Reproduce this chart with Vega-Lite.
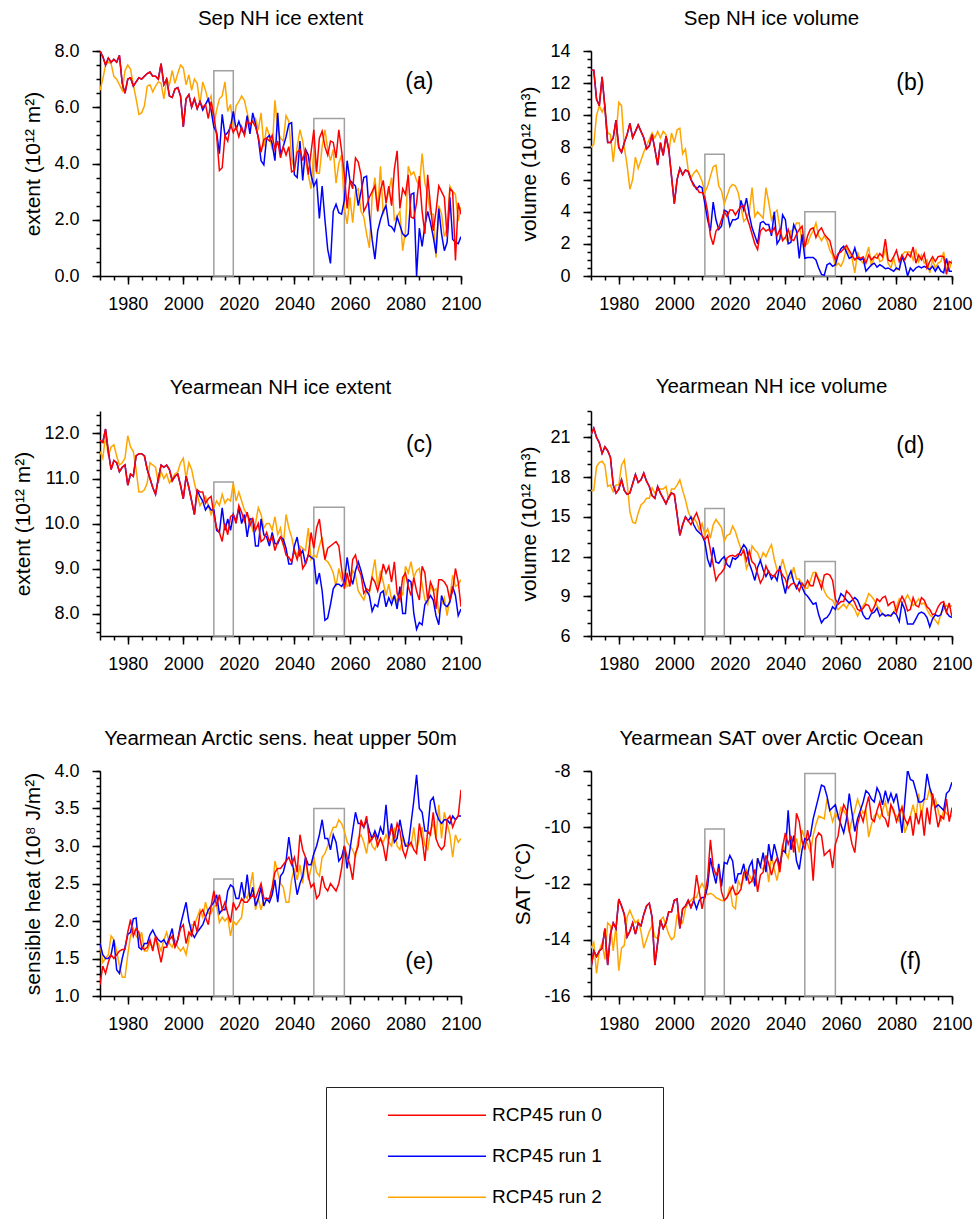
{
  "$schema": "https://vega.github.io/schema/vega-lite/v6.json",
  "padding": {"left": 12, "top": 8, "right": 10, "bottom": 0},
  "columns": 2,
  "spacing": {"row": 135, "column": 130},
  "bounds": "flush",
  "datasets": {
    "sepExtent": [
      {"year":1970,"r0":8.0,"r1":8.0,"r2":6.6},{"year":1971,"r0":7.8,"r1":7.8,"r2":7.0},{"year":1972,"r0":7.5,"r1":7.5,"r2":7.5},{"year":1973,"r0":7.75,"r1":7.75,"r2":7.6},{"year":1974,"r0":7.6,"r1":7.6,"r2":7.55},
      {"year":1975,"r0":7.7,"r1":7.7,"r2":7.1},{"year":1976,"r0":7.6,"r1":7.6,"r2":7.0},{"year":1977,"r0":7.85,"r1":7.85,"r2":6.8},{"year":1978,"r0":6.85,"r1":6.85,"r2":6.6},{"year":1979,"r0":6.5,"r1":6.5,"r2":7.3},
      {"year":1980,"r0":7.0,"r1":7.0,"r2":7.5},{"year":1981,"r0":7.05,"r1":7.05,"r2":7.35},{"year":1982,"r0":6.75,"r1":6.75,"r2":6.8},{"year":1983,"r0":6.9,"r1":6.9,"r2":6.3},{"year":1984,"r0":7.05,"r1":7.05,"r2":5.75},
      {"year":1985,"r0":7.0,"r1":7.0,"r2":5.8},{"year":1986,"r0":7.1,"r1":7.1,"r2":6.05},{"year":1987,"r0":7.2,"r1":7.2,"r2":6.75},{"year":1988,"r0":7.25,"r1":7.25,"r2":6.8},{"year":1989,"r0":7.1,"r1":7.1,"r2":6.55},
      {"year":1990,"r0":7.1,"r1":7.1,"r2":6.75},{"year":1991,"r0":7.0,"r1":7.0,"r2":6.9},{"year":1992,"r0":7.55,"r1":7.55,"r2":6.85},{"year":1993,"r0":6.8,"r1":6.8,"r2":6.3},{"year":1994,"r0":7.0,"r1":7.0,"r2":7.0},
      {"year":1995,"r0":6.4,"r1":6.4,"r2":6.8},{"year":1996,"r0":6.35,"r1":6.35,"r2":7.3},{"year":1997,"r0":6.65,"r1":6.65,"r2":6.85},{"year":1998,"r0":6.7,"r1":6.7,"r2":7.2},{"year":1999,"r0":6.4,"r1":6.4,"r2":7.5},
      {"year":2000,"r0":5.3,"r1":5.3,"r2":7.4},{"year":2001,"r0":6.3,"r1":6.3,"r2":6.8},{"year":2002,"r0":6.45,"r1":6.45,"r2":7.15},{"year":2003,"r0":6.0,"r1":6.0,"r2":6.6},{"year":2004,"r0":6.3,"r1":6.3,"r2":7.0},
      {"year":2005,"r0":5.95,"r1":5.95,"r2":6.85},{"year":2006,"r0":6.2,"r1":6.2,"r2":6.1},{"year":2007,"r0":6.0,"r1":5.9,"r2":6.9},{"year":2008,"r0":6.1,"r1":6.1,"r2":6.6},{"year":2009,"r0":5.6,"r1":6.3,"r2":6.2},
      {"year":2010,"r0":6.2,"r1":5.9,"r2":6.4},{"year":2011,"r0":5.7,"r1":5.3,"r2":5.4},{"year":2012,"r0":5.0,"r1":5.1,"r2":5.9},{"year":2013,"r0":3.75,"r1":4.35,"r2":6.3},{"year":2014,"r0":3.85,"r1":5.75,"r2":6.4},
      {"year":2015,"r0":5.0,"r1":5.0,"r2":6.9},{"year":2016,"r0":4.8,"r1":5.1,"r2":5.85},{"year":2017,"r0":5.4,"r1":5.3,"r2":6.1},{"year":2018,"r0":5.1,"r1":5.85,"r2":5.3},{"year":2019,"r0":5.3,"r1":5.2,"r2":6.05},
      {"year":2020,"r0":4.95,"r1":5.5,"r2":6.2},{"year":2021,"r0":5.3,"r1":5.2,"r2":6.4},{"year":2022,"r0":5.0,"r1":5.05,"r2":6.25},{"year":2023,"r0":5.5,"r1":5.7,"r2":5.8},{"year":2024,"r0":5.4,"r1":5.05,"r2":5.35},
      {"year":2025,"r0":5.5,"r1":5.8,"r2":5.5},{"year":2026,"r0":5.3,"r1":5.4,"r2":5.6},{"year":2027,"r0":4.95,"r1":4.9,"r2":5.2},{"year":2028,"r0":4.4,"r1":4.1,"r2":5.8},{"year":2029,"r0":4.85,"r1":3.95,"r2":4.6},
      {"year":2030,"r0":4.9,"r1":4.9,"r2":5.3},{"year":2031,"r0":4.8,"r1":5.0,"r2":5.0},{"year":2032,"r0":5.0,"r1":4.7,"r2":4.5},{"year":2033,"r0":4.5,"r1":4.1,"r2":6.25},{"year":2034,"r0":4.8,"r1":5.8,"r2":5.2},
      {"year":2035,"r0":4.2,"r1":4.3,"r2":4.9},{"year":2036,"r0":4.6,"r1":4.6,"r2":4.8},{"year":2037,"r0":4.3,"r1":4.95,"r2":5.7},{"year":2038,"r0":4.6,"r1":5.4,"r2":5.5},{"year":2039,"r0":3.7,"r1":5.45,"r2":4.2},
      {"year":2040,"r0":3.75,"r1":3.6,"r2":3.8},{"year":2041,"r0":4.4,"r1":3.5,"r2":4.6},{"year":2042,"r0":4.5,"r1":4.8,"r2":5.2},{"year":2043,"r0":4.1,"r1":3.4,"r2":4.8},{"year":2044,"r0":4.5,"r1":4.5,"r2":4.1},
      {"year":2045,"r0":3.6,"r1":4.3,"r2":3.6},{"year":2046,"r0":4.4,"r1":3.6,"r2":3.1},{"year":2047,"r0":5.2,"r1":3.2,"r2":4.45},{"year":2048,"r0":3.7,"r1":3.4,"r2":3.65},{"year":2049,"r0":4.9,"r1":2.05,"r2":3.65},
      {"year":2050,"r0":5.15,"r1":3.2,"r2":4.6},{"year":2051,"r0":4.6,"r1":2.0,"r2":5.2},{"year":2052,"r0":4.3,"r1":0.95,"r2":4.5},{"year":2053,"r0":4.8,"r1":0.45,"r2":4.1},{"year":2054,"r0":4.75,"r1":2.3,"r2":4.5},
      {"year":2055,"r0":4.2,"r1":2.55,"r2":3.3},{"year":2056,"r0":5.2,"r1":2.25,"r2":4.0},{"year":2057,"r0":4.45,"r1":2.2,"r2":4.3},{"year":2058,"r0":3.6,"r1":2.7,"r2":2.4},{"year":2059,"r0":2.4,"r1":4.1,"r2":1.85},
      {"year":2060,"r0":3.4,"r1":3.4,"r2":2.8},{"year":2061,"r0":3.1,"r1":3.3,"r2":1.9},{"year":2062,"r0":4.2,"r1":3.2,"r2":3.0},{"year":2063,"r0":4.05,"r1":2.5,"r2":3.1},{"year":2064,"r0":3.6,"r1":3.0,"r2":2.3},
      {"year":2065,"r0":2.3,"r1":3.5,"r2":2.1},{"year":2066,"r0":2.5,"r1":3.55,"r2":1.5},{"year":2067,"r0":2.8,"r1":2.2,"r2":1.0},{"year":2068,"r0":3.0,"r1":1.3,"r2":2.8},{"year":2069,"r0":3.2,"r1":0.6,"r2":3.5},
      {"year":2070,"r0":2.3,"r1":1.6,"r2":2.3},{"year":2071,"r0":3.05,"r1":2.0,"r2":3.9},{"year":2072,"r0":3.4,"r1":2.3,"r2":2.2},{"year":2073,"r0":2.6,"r1":2.5,"r2":2.6},{"year":2074,"r0":3.2,"r1":1.8,"r2":3.0},
      {"year":2075,"r0":2.5,"r1":1.75,"r2":3.5},{"year":2076,"r0":3.8,"r1":1.6,"r2":2.0},{"year":2077,"r0":4.45,"r1":2.1,"r2":2.1},{"year":2078,"r0":2.4,"r1":1.8,"r2":2.3},{"year":2079,"r0":3.1,"r1":1.5,"r2":0.9},
      {"year":2080,"r0":2.9,"r1":1.4,"r2":1.6},{"year":2081,"r0":3.6,"r1":1.5,"r2":3.9},{"year":2082,"r0":2.1,"r1":2.9,"r2":3.6},{"year":2083,"r0":2.05,"r1":2.95,"r2":3.7},{"year":2084,"r0":2.6,"r1":0.0,"r2":3.4},
      {"year":2085,"r0":3.55,"r1":1.7,"r2":3.2},{"year":2086,"r0":2.3,"r1":1.05,"r2":4.35},{"year":2087,"r0":1.5,"r1":1.8,"r2":3.3},{"year":2088,"r0":3.6,"r1":2.3,"r2":2.9},{"year":2089,"r0":2.5,"r1":1.9,"r2":2.2},
      {"year":2090,"r0":1.6,"r1":1.4,"r2":2.2},{"year":2091,"r0":2.3,"r1":0.8,"r2":0.65},{"year":2092,"r0":3.2,"r1":2.4,"r2":2.5},{"year":2093,"r0":3.0,"r1":1.5,"r2":2.2},{"year":2094,"r0":2.8,"r1":0.9,"r2":1.4},
      {"year":2095,"r0":1.4,"r1":1.2,"r2":1.7},{"year":2096,"r0":3.1,"r1":2.8,"r2":3.2},{"year":2097,"r0":3.0,"r1":1.3,"r2":3.0},{"year":2098,"r0":0.55,"r1":1.2,"r2":2.9},{"year":2099,"r0":2.6,"r1":1.15,"r2":1.95},
      {"year":2100,"r0":2.2,"r1":1.4,"r2":2.45}
    ],
    "sepVolume": [
      {"year":1970,"r0":12.8,"r1":12.8,"r2":8.0},{"year":1971,"r0":12.8,"r1":12.8,"r2":8.2},{"year":1972,"r0":11.0,"r1":11.0,"r2":10.0},{"year":1973,"r0":10.6,"r1":10.6,"r2":10.6},{"year":1974,"r0":12.4,"r1":12.4,"r2":10.2},
      {"year":1975,"r0":10.5,"r1":10.5,"r2":10.6},{"year":1976,"r0":8.3,"r1":8.3,"r2":8.9},{"year":1977,"r0":8.3,"r1":8.3,"r2":8.8},{"year":1978,"r0":8.6,"r1":8.6,"r2":7.1},{"year":1979,"r0":9.7,"r1":9.7,"r2":8.7},
      {"year":1980,"r0":8.0,"r1":8.0,"r2":10.8},{"year":1981,"r0":7.7,"r1":7.7,"r2":10.6},{"year":1982,"r0":8.3,"r1":8.3,"r2":8.0},{"year":1983,"r0":8.8,"r1":8.8,"r2":6.9},{"year":1984,"r0":9.5,"r1":9.5,"r2":5.4},
      {"year":1985,"r0":8.6,"r1":8.6,"r2":6.0},{"year":1986,"r0":9.0,"r1":9.0,"r2":7.4},{"year":1987,"r0":9.4,"r1":9.4,"r2":6.7},{"year":1988,"r0":9.0,"r1":9.0,"r2":7.2},{"year":1989,"r0":8.6,"r1":8.6,"r2":7.7},
      {"year":1990,"r0":7.9,"r1":7.9,"r2":8.1},{"year":1991,"r0":8.1,"r1":8.1,"r2":8.5},{"year":1992,"r0":8.8,"r1":8.8,"r2":8.9},{"year":1993,"r0":7.9,"r1":7.9,"r2":8.6},{"year":1994,"r0":6.9,"r1":6.9,"r2":9.0},
      {"year":1995,"r0":8.3,"r1":8.3,"r2":8.6},{"year":1996,"r0":7.5,"r1":7.5,"r2":9.0},{"year":1997,"r0":8.7,"r1":8.7,"r2":8.8},{"year":1998,"r0":7.9,"r1":7.9,"r2":7.7},{"year":1999,"r0":6.2,"r1":6.2,"r2":8.9},
      {"year":2000,"r0":4.5,"r1":4.5,"r2":8.3},{"year":2001,"r0":6.0,"r1":6.0,"r2":9.1},{"year":2002,"r0":6.7,"r1":6.7,"r2":9.2},{"year":2003,"r0":6.3,"r1":6.3,"r2":7.6},{"year":2004,"r0":6.6,"r1":6.6,"r2":7.9},
      {"year":2005,"r0":6.5,"r1":6.5,"r2":6.6},{"year":2006,"r0":6.0,"r1":6.0,"r2":6.1},{"year":2007,"r0":5.6,"r1":5.7,"r2":6.4},{"year":2008,"r0":5.5,"r1":5.4,"r2":6.6},{"year":2009,"r0":5.2,"r1":5.6,"r2":6.3},
      {"year":2010,"r0":5.2,"r1":5.5,"r2":5.9},{"year":2011,"r0":4.9,"r1":4.5,"r2":5.2},{"year":2012,"r0":4.0,"r1":3.5,"r2":5.6},{"year":2013,"r0":2.5,"r1":2.8,"r2":6.2},{"year":2014,"r0":1.95,"r1":4.6,"r2":6.8},
      {"year":2015,"r0":2.8,"r1":3.5,"r2":6.9},{"year":2016,"r0":3.0,"r1":2.9,"r2":5.6},{"year":2017,"r0":3.5,"r1":3.1,"r2":5.3},{"year":2018,"r0":4.0,"r1":4.1,"r2":4.5},{"year":2019,"r0":3.7,"r1":4.0,"r2":5.0},
      {"year":2020,"r0":4.1,"r1":3.1,"r2":5.5},{"year":2021,"r0":4.1,"r1":3.5,"r2":5.7},{"year":2022,"r0":3.8,"r1":3.5,"r2":5.6},{"year":2023,"r0":4.1,"r1":3.6,"r2":5.2},{"year":2024,"r0":4.3,"r1":4.7,"r2":4.3},
      {"year":2025,"r0":4.4,"r1":4.1,"r2":3.4},{"year":2026,"r0":3.7,"r1":4.85,"r2":3.6},{"year":2027,"r0":3.2,"r1":3.8,"r2":4.0},{"year":2028,"r0":2.6,"r1":3.0,"r2":5.5},{"year":2029,"r0":2.0,"r1":2.5,"r2":3.7},
      {"year":2030,"r0":1.65,"r1":2.0,"r2":4.0},{"year":2031,"r0":2.8,"r1":3.3,"r2":3.8},{"year":2032,"r0":3.0,"r1":3.4,"r2":3.6},{"year":2033,"r0":2.8,"r1":3.2,"r2":5.5},{"year":2034,"r0":2.9,"r1":3.2,"r2":4.6},
      {"year":2035,"r0":2.7,"r1":2.5,"r2":3.5},{"year":2036,"r0":3.0,"r1":4.0,"r2":3.9},{"year":2037,"r0":2.5,"r1":2.0,"r2":4.1},{"year":2038,"r0":2.9,"r1":2.3,"r2":3.0},{"year":2039,"r0":2.2,"r1":3.8,"r2":2.3},
      {"year":2040,"r0":2.4,"r1":3.5,"r2":2.4},{"year":2041,"r0":2.9,"r1":2.0,"r2":2.1},{"year":2042,"r0":2.3,"r1":2.1,"r2":2.8},{"year":2043,"r0":2.2,"r1":3.2,"r2":2.9},{"year":2044,"r0":2.6,"r1":2.8,"r2":3.3},
      {"year":2045,"r0":2.9,"r1":1.1,"r2":3.3},{"year":2046,"r0":3.1,"r1":2.6,"r2":2.0},{"year":2047,"r0":1.8,"r1":1.1,"r2":1.9},{"year":2048,"r0":2.5,"r1":1.15,"r2":2.0},{"year":2049,"r0":2.9,"r1":1.15,"r2":2.5},
      {"year":2050,"r0":3.0,"r1":1.15,"r2":2.8},{"year":2051,"r0":2.4,"r1":1.0,"r2":3.3},{"year":2052,"r0":2.8,"r1":0.5,"r2":2.5},{"year":2053,"r0":3.0,"r1":0.1,"r2":2.2},{"year":2054,"r0":2.6,"r1":0.05,"r2":2.5},
      {"year":2055,"r0":2.4,"r1":0.7,"r2":2.2},{"year":2056,"r0":2.2,"r1":0.8,"r2":1.6},{"year":2057,"r0":1.5,"r1":0.6,"r2":1.3},{"year":2058,"r0":1.0,"r1":0.7,"r2":0.6},{"year":2059,"r0":1.4,"r1":1.3,"r2":0.8},
      {"year":2060,"r0":1.5,"r1":1.7,"r2":0.6},{"year":2061,"r0":1.7,"r1":1.85,"r2":1.0},{"year":2062,"r0":1.9,"r1":1.5,"r2":1.8},{"year":2063,"r0":1.6,"r1":1.1,"r2":1.4},{"year":2064,"r0":1.3,"r1":1.2,"r2":1.1},
      {"year":2065,"r0":1.0,"r1":1.75,"r2":0.2},{"year":2066,"r0":1.2,"r1":1.1,"r2":1.5},{"year":2067,"r0":1.1,"r1":1.0,"r2":1.0},{"year":2068,"r0":1.2,"r1":1.1,"r2":0.8},{"year":2069,"r0":0.8,"r1":0.3,"r2":1.2},
      {"year":2070,"r0":1.3,"r1":0.5,"r2":1.8},{"year":2071,"r0":1.0,"r1":0.7,"r2":0.6},{"year":2072,"r0":1.2,"r1":0.8,"r2":1.2},{"year":2073,"r0":1.1,"r1":0.55,"r2":1.4},{"year":2074,"r0":1.4,"r1":0.7,"r2":0.9},
      {"year":2075,"r0":1.2,"r1":0.6,"r2":1.0},{"year":2076,"r0":2.3,"r1":0.45,"r2":1.7},{"year":2077,"r0":1.0,"r1":0.5,"r2":0.8},{"year":2078,"r0":0.9,"r1":0.4,"r2":0.5},{"year":2079,"r0":1.2,"r1":0.3,"r2":1.1},
      {"year":2080,"r0":1.6,"r1":0.5,"r2":0.4},{"year":2081,"r0":0.9,"r1":0.4,"r2":0.4},{"year":2082,"r0":1.3,"r1":1.2,"r2":1.3},{"year":2083,"r0":1.0,"r1":0.8,"r2":1.5},{"year":2084,"r0":1.4,"r1":0.0,"r2":1.5},
      {"year":2085,"r0":1.2,"r1":0.5,"r2":1.5},{"year":2086,"r0":1.8,"r1":0.3,"r2":1.0},{"year":2087,"r0":0.8,"r1":0.5,"r2":1.6},{"year":2088,"r0":1.3,"r1":0.6,"r2":0.9},{"year":2089,"r0":1.0,"r1":0.5,"r2":1.3},
      {"year":2090,"r0":1.4,"r1":0.6,"r2":0.8},{"year":2091,"r0":0.5,"r1":0.5,"r2":1.0},{"year":2092,"r0":0.9,"r1":0.4,"r2":0.2},{"year":2093,"r0":1.2,"r1":0.6,"r2":1.0},{"year":2094,"r0":0.9,"r1":0.3,"r2":0.5},
      {"year":2095,"r0":1.2,"r1":0.6,"r2":0.8},{"year":2096,"r0":1.25,"r1":0.3,"r2":0.9},{"year":2097,"r0":1.2,"r1":0.2,"r2":1.5},{"year":2098,"r0":0.1,"r1":1.1,"r2":0.3},{"year":2099,"r0":0.9,"r1":0.3,"r2":0.4},
      {"year":2100,"r0":0.8,"r1":0.3,"r2":1.0}
    ],
    "meanExtent": [
      {"year":1970,"r0":11.85,"r1":11.85,"r2":11.6},{"year":1971,"r0":11.8,"r1":11.8,"r2":11.45},{"year":1972,"r0":12.1,"r1":12.1,"r2":11.95},{"year":1973,"r0":11.6,"r1":11.6,"r2":11.5},{"year":1974,"r0":11.2,"r1":11.2,"r2":11.7},
      {"year":1975,"r0":11.4,"r1":11.4,"r2":11.75},{"year":1976,"r0":11.35,"r1":11.35,"r2":11.5},{"year":1977,"r0":11.15,"r1":11.15,"r2":11.3},{"year":1978,"r0":11.25,"r1":11.25,"r2":11.35},{"year":1979,"r0":11.3,"r1":11.3,"r2":11.45},
      {"year":1980,"r0":10.85,"r1":10.85,"r2":11.95},{"year":1981,"r0":11.1,"r1":11.1,"r2":11.7},{"year":1982,"r0":11.05,"r1":11.05,"r2":11.6},{"year":1983,"r0":11.5,"r1":11.5,"r2":11.2},{"year":1984,"r0":11.55,"r1":11.55,"r2":10.7},
      {"year":1985,"r0":11.55,"r1":11.55,"r2":10.7},{"year":1986,"r0":11.5,"r1":11.5,"r2":10.75},{"year":1987,"r0":11.2,"r1":11.2,"r2":10.9},{"year":1988,"r0":11.0,"r1":11.0,"r2":11.35},{"year":1989,"r0":10.8,"r1":10.8,"r2":11.3},
      {"year":1990,"r0":10.65,"r1":10.65,"r2":11.25},{"year":1991,"r0":11.0,"r1":11.0,"r2":10.9},{"year":1992,"r0":11.3,"r1":11.3,"r2":11.15},{"year":1993,"r0":11.25,"r1":11.25,"r2":11.0},{"year":1994,"r0":11.3,"r1":11.3,"r2":11.1},
      {"year":1995,"r0":11.2,"r1":11.2,"r2":10.9},{"year":1996,"r0":10.95,"r1":10.95,"r2":11.0},{"year":1997,"r0":11.05,"r1":11.05,"r2":11.1},{"year":1998,"r0":11.1,"r1":11.1,"r2":11.15},{"year":1999,"r0":10.85,"r1":10.85,"r2":11.35},
      {"year":2000,"r0":10.55,"r1":10.55,"r2":11.45},{"year":2001,"r0":11.05,"r1":11.05,"r2":11.0},{"year":2002,"r0":10.8,"r1":10.8,"r2":11.35},{"year":2003,"r0":10.5,"r1":10.5,"r2":11.2},{"year":2004,"r0":10.2,"r1":10.2,"r2":10.9},
      {"year":2005,"r0":10.75,"r1":10.75,"r2":10.65},{"year":2006,"r0":10.7,"r1":10.6,"r2":10.4},{"year":2007,"r0":10.7,"r1":10.5,"r2":10.5},{"year":2008,"r0":10.45,"r1":10.3,"r2":10.6},{"year":2009,"r0":10.55,"r1":10.4,"r2":10.4},
      {"year":2010,"r0":10.6,"r1":10.3,"r2":10.2},{"year":2011,"r0":10.2,"r1":10.3,"r2":10.35},{"year":2012,"r0":9.9,"r1":9.85,"r2":10.5},{"year":2013,"r0":9.8,"r1":9.8,"r2":10.4},{"year":2014,"r0":9.6,"r1":10.35,"r2":10.65},
      {"year":2015,"r0":10.0,"r1":9.85,"r2":10.45},{"year":2016,"r0":9.75,"r1":10.1,"r2":10.55},{"year":2017,"r0":10.15,"r1":9.85,"r2":10.5},{"year":2018,"r0":10.2,"r1":10.2,"r2":10.9},{"year":2019,"r0":10.0,"r1":10.05,"r2":10.5},
      {"year":2020,"r0":10.4,"r1":10.35,"r2":10.7},{"year":2021,"r0":10.25,"r1":10.0,"r2":10.5},{"year":2022,"r0":10.05,"r1":10.2,"r2":10.3},{"year":2023,"r0":10.25,"r1":9.7,"r2":10.2},{"year":2024,"r0":9.95,"r1":10.1,"r2":10.1},
      {"year":2025,"r0":10.1,"r1":10.1,"r2":9.85},{"year":2026,"r0":9.85,"r1":9.5,"r2":10.0},{"year":2027,"r0":10.0,"r1":9.5,"r2":10.35},{"year":2028,"r0":9.6,"r1":10.1,"r2":10.2},{"year":2029,"r0":9.65,"r1":9.75,"r2":9.9},
      {"year":2030,"r0":9.8,"r1":9.7,"r2":10.0},{"year":2031,"r0":9.6,"r1":9.5,"r2":10.0},{"year":2032,"r0":9.7,"r1":9.8,"r2":9.85},{"year":2033,"r0":9.4,"r1":9.55,"r2":10.15},{"year":2034,"r0":9.6,"r1":9.55,"r2":9.75},
      {"year":2035,"r0":9.7,"r1":9.7,"r2":9.9},{"year":2036,"r0":9.55,"r1":9.65,"r2":9.5},{"year":2037,"r0":9.3,"r1":9.45,"r2":10.2},{"year":2038,"r0":9.25,"r1":9.1,"r2":9.9},{"year":2039,"r0":9.15,"r1":9.1,"r2":9.7},
      {"year":2040,"r0":9.4,"r1":9.5,"r2":9.4},{"year":2041,"r0":9.2,"r1":9.7,"r2":9.3},{"year":2042,"r0":9.45,"r1":9.3,"r2":9.5},{"year":2043,"r0":9.0,"r1":9.4,"r2":9.45},{"year":2044,"r0":9.1,"r1":9.1,"r2":9.4},
      {"year":2045,"r0":9.3,"r1":9.3,"r2":9.9},{"year":2046,"r0":9.8,"r1":9.25,"r2":9.2},{"year":2047,"r0":9.45,"r1":9.2,"r2":9.3},{"year":2048,"r0":9.9,"r1":8.65,"r2":9.25},{"year":2049,"r0":10.1,"r1":8.9,"r2":9.5},
      {"year":2050,"r0":9.6,"r1":8.5,"r2":9.7},{"year":2051,"r0":9.2,"r1":7.85,"r2":9.2},{"year":2052,"r0":9.45,"r1":7.9,"r2":9.15},{"year":2053,"r0":9.5,"r1":8.2,"r2":9.05},{"year":2054,"r0":9.55,"r1":8.55,"r2":8.9},
      {"year":2055,"r0":9.6,"r1":8.65,"r2":8.6},{"year":2056,"r0":9.5,"r1":8.65,"r2":9.0},{"year":2057,"r0":9.0,"r1":8.6,"r2":8.75},{"year":2058,"r0":8.55,"r1":8.7,"r2":8.9},{"year":2059,"r0":8.9,"r1":9.25,"r2":8.6},
      {"year":2060,"r0":8.6,"r1":8.85,"r2":8.65},{"year":2061,"r0":9.2,"r1":8.65,"r2":8.95},{"year":2062,"r0":9.3,"r1":8.95,"r2":8.85},{"year":2063,"r0":9.0,"r1":9.15,"r2":8.5},{"year":2064,"r0":8.85,"r1":8.95,"r2":8.4},
      {"year":2065,"r0":8.45,"r1":8.7,"r2":8.3},{"year":2066,"r0":8.55,"r1":8.5,"r2":8.5},{"year":2067,"r0":8.5,"r1":8.4,"r2":8.45},{"year":2068,"r0":8.8,"r1":8.05,"r2":8.85},{"year":2069,"r0":8.7,"r1":8.2,"r2":9.2},
      {"year":2070,"r0":8.5,"r1":8.15,"r2":8.6},{"year":2071,"r0":8.75,"r1":8.45,"r2":8.95},{"year":2072,"r0":9.1,"r1":8.5,"r2":8.7},{"year":2073,"r0":8.9,"r1":8.15,"r2":8.4},{"year":2074,"r0":9.05,"r1":8.35,"r2":8.65},
      {"year":2075,"r0":8.7,"r1":8.2,"r2":8.3},{"year":2076,"r0":9.15,"r1":8.4,"r2":8.4},{"year":2077,"r0":8.45,"r1":8.1,"r2":8.25},{"year":2078,"r0":8.3,"r1":8.6,"r2":8.55},{"year":2079,"r0":8.8,"r1":8.0,"r2":8.4},
      {"year":2080,"r0":8.9,"r1":8.0,"r2":9.05},{"year":2081,"r0":8.6,"r1":8.75,"r2":8.9},{"year":2082,"r0":8.4,"r1":8.7,"r2":9.15},{"year":2083,"r0":8.8,"r1":8.0,"r2":8.8},{"year":2084,"r0":8.5,"r1":7.65,"r2":8.95},
      {"year":2085,"r0":8.3,"r1":7.8,"r2":9.0},{"year":2086,"r0":9.05,"r1":7.75,"r2":8.65},{"year":2087,"r0":8.9,"r1":8.2,"r2":8.3},{"year":2088,"r0":8.3,"r1":8.3,"r2":8.2},{"year":2089,"r0":8.7,"r1":8.4,"r2":8.6},
      {"year":2090,"r0":8.55,"r1":8.3,"r2":8.5},{"year":2091,"r0":8.1,"r1":7.95,"r2":8.55},{"year":2092,"r0":8.75,"r1":7.75,"r2":8.0},{"year":2093,"r0":8.75,"r1":8.4,"r2":8.2},{"year":2094,"r0":8.7,"r1":8.2,"r2":8.35},
      {"year":2095,"r0":8.6,"r1":8.15,"r2":7.95},{"year":2096,"r0":8.3,"r1":8.25,"r2":8.35},{"year":2097,"r0":8.5,"r1":8.6,"r2":8.85},{"year":2098,"r0":9.0,"r1":8.4,"r2":8.6},{"year":2099,"r0":8.7,"r1":7.95,"r2":8.65},
      {"year":2100,"r0":8.15,"r1":8.1,"r2":8.75}
    ],
    "meanVolume": [
      {"year":1970,"r0":21.2,"r1":21.2,"r2":17.0},{"year":1971,"r0":21.7,"r1":21.7,"r2":17.0},{"year":1972,"r0":21.0,"r1":21.0,"r2":18.8},{"year":1973,"r0":20.6,"r1":20.6,"r2":19.1},{"year":1974,"r0":19.8,"r1":19.8,"r2":19.2},
      {"year":1975,"r0":20.3,"r1":20.3,"r2":18.9},{"year":1976,"r0":20.0,"r1":20.0,"r2":17.3},{"year":1977,"r0":19.5,"r1":19.5,"r2":17.4},{"year":1978,"r0":17.4,"r1":17.4,"r2":16.9},{"year":1979,"r0":16.8,"r1":16.8,"r2":17.4},
      {"year":1980,"r0":17.1,"r1":17.1,"r2":17.4},{"year":1981,"r0":17.8,"r1":17.8,"r2":18.9},{"year":1982,"r0":17.0,"r1":17.0,"r2":19.3},{"year":1983,"r0":16.7,"r1":16.7,"r2":17.6},{"year":1984,"r0":16.8,"r1":16.8,"r2":15.4},
      {"year":1985,"r0":17.5,"r1":17.5,"r2":14.6},{"year":1986,"r0":18.2,"r1":18.2,"r2":14.5},{"year":1987,"r0":17.6,"r1":17.6,"r2":15.3},{"year":1988,"r0":17.8,"r1":17.8,"r2":15.9},{"year":1989,"r0":18.3,"r1":18.3,"r2":16.1},
      {"year":1990,"r0":17.7,"r1":17.7,"r2":16.4},{"year":1991,"r0":17.3,"r1":17.3,"r2":16.4},{"year":1992,"r0":16.6,"r1":16.6,"r2":17.2},{"year":1993,"r0":16.4,"r1":16.4,"r2":16.8},{"year":1994,"r0":17.3,"r1":17.3,"r2":17.0},
      {"year":1995,"r0":16.8,"r1":16.8,"r2":17.1},{"year":1996,"r0":16.4,"r1":16.4,"r2":17.1},{"year":1997,"r0":16.0,"r1":16.0,"r2":17.3},{"year":1998,"r0":16.5,"r1":16.5,"r2":16.3},{"year":1999,"r0":16.8,"r1":16.8,"r2":17.1},
      {"year":2000,"r0":16.7,"r1":16.7,"r2":17.1},{"year":2001,"r0":15.2,"r1":15.2,"r2":17.4},{"year":2002,"r0":13.6,"r1":13.6,"r2":17.8},{"year":2003,"r0":14.4,"r1":14.4,"r2":17.0},{"year":2004,"r0":15.0,"r1":15.0,"r2":16.3},
      {"year":2005,"r0":14.7,"r1":14.7,"r2":15.4},{"year":2006,"r0":14.4,"r1":15.0,"r2":14.9},{"year":2007,"r0":14.9,"r1":14.4,"r2":14.9},{"year":2008,"r0":15.3,"r1":14.0,"r2":14.6},{"year":2009,"r0":14.7,"r1":13.8,"r2":14.0},
      {"year":2010,"r0":13.6,"r1":13.6,"r2":14.5},{"year":2011,"r0":13.3,"r1":13.1,"r2":13.7},{"year":2012,"r0":13.6,"r1":11.8,"r2":14.1},{"year":2013,"r0":12.5,"r1":11.2,"r2":13.4},{"year":2014,"r0":11.4,"r1":12.7,"r2":14.4},
      {"year":2015,"r0":10.2,"r1":11.6,"r2":14.8},{"year":2016,"r0":10.6,"r1":11.5,"r2":14.5},{"year":2017,"r0":10.8,"r1":11.8,"r2":14.2},{"year":2018,"r0":11.1,"r1":12.0,"r2":13.2},{"year":2019,"r0":11.9,"r1":11.4,"r2":13.6},
      {"year":2020,"r0":12.05,"r1":11.2,"r2":13.7},{"year":2021,"r0":12.1,"r1":11.9,"r2":14.3},{"year":2022,"r0":12.0,"r1":11.8,"r2":13.9},{"year":2023,"r0":12.2,"r1":12.0,"r2":13.2},{"year":2024,"r0":12.1,"r1":12.5,"r2":12.6},
      {"year":2025,"r0":12.5,"r1":12.9,"r2":12.3},{"year":2026,"r0":11.7,"r1":12.6,"r2":11.1},{"year":2027,"r0":12.4,"r1":11.5,"r2":11.6},{"year":2028,"r0":11.6,"r1":10.9,"r2":12.8},{"year":2029,"r0":11.4,"r1":10.2,"r2":12.5},
      {"year":2030,"r0":10.7,"r1":11.2,"r2":12.3},{"year":2031,"r0":10.0,"r1":11.7,"r2":11.7},{"year":2032,"r0":10.4,"r1":11.0,"r2":12.3},{"year":2033,"r0":11.3,"r1":10.5,"r2":12.0},{"year":2034,"r0":10.8,"r1":10.9,"r2":12.5},
      {"year":2035,"r0":10.6,"r1":10.3,"r2":12.9},{"year":2036,"r0":10.5,"r1":10.6,"r2":11.8},{"year":2037,"r0":10.9,"r1":10.2,"r2":11.0},{"year":2038,"r0":11.0,"r1":11.3,"r2":10.9},{"year":2039,"r0":10.6,"r1":10.1,"r2":11.8},
      {"year":2040,"r0":10.3,"r1":9.2,"r2":11.0},{"year":2041,"r0":9.6,"r1":10.4,"r2":10.3},{"year":2042,"r0":9.9,"r1":10.9,"r2":10.4},{"year":2043,"r0":10.0,"r1":10.1,"r2":11.2},{"year":2044,"r0":9.8,"r1":9.6,"r2":10.3},
      {"year":2045,"r0":9.4,"r1":10.1,"r2":10.3},{"year":2046,"r0":10.0,"r1":9.7,"r2":9.9},{"year":2047,"r0":9.7,"r1":9.2,"r2":9.6},{"year":2048,"r0":10.2,"r1":9.0,"r2":9.6},{"year":2049,"r0":9.8,"r1":8.7,"r2":10.2},
      {"year":2050,"r0":9.8,"r1":8.4,"r2":10.8},{"year":2051,"r0":10.7,"r1":8.5,"r2":10.8},{"year":2052,"r0":10.2,"r1":7.6,"r2":10.3},{"year":2053,"r0":9.6,"r1":7.0,"r2":10.1},{"year":2054,"r0":10.6,"r1":7.3,"r2":9.4},
      {"year":2055,"r0":10.7,"r1":7.4,"r2":9.0},{"year":2056,"r0":10.6,"r1":7.7,"r2":8.8},{"year":2057,"r0":10.2,"r1":8.2,"r2":8.7},{"year":2058,"r0":8.8,"r1":8.0,"r2":8.3},{"year":2059,"r0":8.4,"r1":8.6,"r2":8.0},
      {"year":2060,"r0":8.6,"r1":9.2,"r2":8.2},{"year":2061,"r0":8.6,"r1":9.0,"r2":8.4},{"year":2062,"r0":9.4,"r1":8.7,"r2":8.1},{"year":2063,"r0":9.2,"r1":8.5,"r2":8.5},{"year":2064,"r0":8.9,"r1":8.7,"r2":8.3},
      {"year":2065,"r0":8.5,"r1":8.9,"r2":8.0},{"year":2066,"r0":8.0,"r1":8.7,"r2":7.5},{"year":2067,"r0":7.9,"r1":8.2,"r2":8.0},{"year":2068,"r0":8.1,"r1":7.6,"r2":8.3},{"year":2069,"r0":8.4,"r1":7.3,"r2":8.6},
      {"year":2070,"r0":8.3,"r1":7.3,"r2":9.2},{"year":2071,"r0":7.8,"r1":7.7,"r2":9.0},{"year":2072,"r0":8.2,"r1":7.8,"r2":8.7},{"year":2073,"r0":8.8,"r1":8.1,"r2":8.3},{"year":2074,"r0":8.6,"r1":7.5,"r2":8.0},
      {"year":2075,"r0":8.9,"r1":7.7,"r2":7.6},{"year":2076,"r0":9.0,"r1":7.5,"r2":7.6},{"year":2077,"r0":8.3,"r1":7.6,"r2":7.5},{"year":2078,"r0":8.5,"r1":7.5,"r2":7.6},{"year":2079,"r0":8.6,"r1":7.8,"r2":7.8},
      {"year":2080,"r0":7.8,"r1":7.6,"r2":8.2},{"year":2081,"r0":8.5,"r1":7.1,"r2":8.8},{"year":2082,"r0":9.0,"r1":8.5,"r2":8.5},{"year":2083,"r0":8.6,"r1":8.0,"r2":8.7},{"year":2084,"r0":7.9,"r1":6.9,"r2":9.1},
      {"year":2085,"r0":8.0,"r1":6.9,"r2":8.7},{"year":2086,"r0":8.9,"r1":6.9,"r2":8.3},{"year":2087,"r0":8.3,"r1":7.3,"r2":8.5},{"year":2088,"r0":8.2,"r1":7.7,"r2":8.8},{"year":2089,"r0":8.9,"r1":7.8,"r2":8.4},
      {"year":2090,"r0":8.7,"r1":7.7,"r2":8.5},{"year":2091,"r0":8.2,"r1":7.4,"r2":8.0},{"year":2092,"r0":8.0,"r1":6.7,"r2":7.6},{"year":2093,"r0":7.6,"r1":7.3,"r2":7.4},{"year":2094,"r0":7.7,"r1":7.6,"r2":7.2},
      {"year":2095,"r0":8.2,"r1":7.5,"r2":6.9},{"year":2096,"r0":8.5,"r1":7.6,"r2":7.7},{"year":2097,"r0":8.6,"r1":8.4,"r2":8.0},{"year":2098,"r0":7.8,"r1":7.8,"r2":8.3},{"year":2099,"r0":8.5,"r1":7.5,"r2":8.2},
      {"year":2100,"r0":7.4,"r1":7.4,"r2":8.3}
    ],
    "heat": [
      {"year":1970,"r0":1.15,"r1":1.7,"r2":1.7},{"year":1971,"r0":1.4,"r1":1.55,"r2":1.45},{"year":1972,"r0":1.3,"r1":1.5,"r2":1.5},{"year":1973,"r0":1.45,"r1":1.5,"r2":1.55},{"year":1974,"r0":1.55,"r1":1.55,"r2":1.8},
      {"year":1975,"r0":1.5,"r1":1.75,"r2":1.75},{"year":1976,"r0":1.55,"r1":1.35,"r2":1.6},{"year":1977,"r0":1.6,"r1":1.3,"r2":1.4},{"year":1978,"r0":1.62,"r1":1.5,"r2":1.25},{"year":1979,"r0":1.62,"r1":1.65,"r2":1.25},
      {"year":1980,"r0":1.85,"r1":1.82,"r2":1.55},{"year":1981,"r0":2.02,"r1":1.85,"r2":1.8},{"year":1982,"r0":1.8,"r1":2.03,"r2":1.9},{"year":1983,"r0":1.9,"r1":2.04,"r2":1.8},{"year":1984,"r0":1.85,"r1":1.65,"r2":1.75},
      {"year":1985,"r0":1.65,"r1":1.62,"r2":1.85},{"year":1986,"r0":1.62,"r1":1.7,"r2":1.6},{"year":1987,"r0":1.65,"r1":1.7,"r2":1.6},{"year":1988,"r0":1.75,"r1":1.82,"r2":1.7},{"year":1989,"r0":1.6,"r1":1.88,"r2":1.65},
      {"year":1990,"r0":1.8,"r1":1.8,"r2":1.75},{"year":1991,"r0":1.62,"r1":1.75,"r2":1.7},{"year":1992,"r0":1.45,"r1":1.72,"r2":1.6},{"year":1993,"r0":1.65,"r1":1.75,"r2":1.75},{"year":1994,"r0":1.65,"r1":1.68,"r2":1.85},
      {"year":1995,"r0":1.75,"r1":1.78,"r2":1.7},{"year":1996,"r0":1.8,"r1":1.9,"r2":1.65},{"year":1997,"r0":1.65,"r1":1.65,"r2":1.75},{"year":1998,"r0":1.75,"r1":1.75,"r2":1.65},{"year":1999,"r0":1.9,"r1":1.95,"r2":1.6},
      {"year":2000,"r0":1.95,"r1":2.1,"r2":1.65},{"year":2001,"r0":1.7,"r1":2.25,"r2":1.55},{"year":2002,"r0":1.85,"r1":2.0,"r2":1.75},{"year":2003,"r0":1.8,"r1":1.85,"r2":1.95},{"year":2004,"r0":2.0,"r1":1.78,"r2":1.95},
      {"year":2005,"r0":1.85,"r1":1.85,"r2":2.05},{"year":2006,"r0":2.1,"r1":1.9,"r2":2.15},{"year":2007,"r0":2.15,"r1":1.95,"r2":2.05},{"year":2008,"r0":2.05,"r1":2.05,"r2":2.25},{"year":2009,"r0":1.95,"r1":2.15,"r2":2.1},
      {"year":2010,"r0":2.2,"r1":2.2,"r2":2.1},{"year":2011,"r0":2.4,"r1":2.25,"r2":2.2},{"year":2012,"r0":2.2,"r1":2.35,"r2":2.2},{"year":2013,"r0":2.35,"r1":2.1,"r2":1.98},{"year":2014,"r0":2.15,"r1":2.15,"r2":2.05},
      {"year":2015,"r0":2.25,"r1":2.15,"r2":2.0},{"year":2016,"r0":2.1,"r1":2.4,"r2":2.05},{"year":2017,"r0":1.98,"r1":2.48,"r2":1.8},{"year":2018,"r0":2.25,"r1":2.45,"r2":2.0},{"year":2019,"r0":2.15,"r1":2.3,"r2":1.95},
      {"year":2020,"r0":2.2,"r1":2.3,"r2":2.0},{"year":2021,"r0":2.3,"r1":2.52,"r2":2.05},{"year":2022,"r0":2.25,"r1":2.3,"r2":2.35},{"year":2023,"r0":2.25,"r1":2.62,"r2":2.3},{"year":2024,"r0":2.3,"r1":2.3,"r2":2.45},
      {"year":2025,"r0":2.35,"r1":2.45,"r2":2.65},{"year":2026,"r0":2.3,"r1":2.2,"r2":2.15},{"year":2027,"r0":2.4,"r1":2.3,"r2":2.3},{"year":2028,"r0":2.5,"r1":2.45,"r2":2.15},{"year":2029,"r0":2.3,"r1":2.2,"r2":2.3},
      {"year":2030,"r0":2.3,"r1":2.3,"r2":2.3},{"year":2031,"r0":2.3,"r1":2.25,"r2":2.25},{"year":2032,"r0":2.45,"r1":2.35,"r2":2.4},{"year":2033,"r0":2.65,"r1":2.55,"r2":2.8},{"year":2034,"r0":2.7,"r1":2.25,"r2":2.65},
      {"year":2035,"r0":2.7,"r1":2.6,"r2":2.5},{"year":2036,"r0":2.75,"r1":2.65,"r2":2.45},{"year":2037,"r0":2.8,"r1":2.8,"r2":2.25},{"year":2038,"r0":2.85,"r1":3.12,"r2":2.25},{"year":2039,"r0":2.75,"r1":2.85,"r2":2.55},
      {"year":2040,"r0":2.85,"r1":2.6,"r2":2.7},{"year":2041,"r0":2.65,"r1":2.35,"r2":2.55},{"year":2042,"r0":3.15,"r1":2.5,"r2":2.75},{"year":2043,"r0":2.95,"r1":2.6,"r2":2.5},{"year":2044,"r0":2.85,"r1":2.85,"r2":2.85},
      {"year":2045,"r0":2.6,"r1":2.75,"r2":2.55},{"year":2046,"r0":2.45,"r1":2.75,"r2":2.7},{"year":2047,"r0":2.5,"r1":2.9,"r2":2.85},{"year":2048,"r0":2.3,"r1":3.0,"r2":2.65},{"year":2049,"r0":2.35,"r1":3.15,"r2":2.6},
      {"year":2050,"r0":2.6,"r1":3.35,"r2":2.85},{"year":2051,"r0":2.45,"r1":3.1,"r2":2.9},{"year":2052,"r0":2.4,"r1":3.1,"r2":3.0},{"year":2053,"r0":2.5,"r1":2.95,"r2":3.15},{"year":2054,"r0":2.45,"r1":3.15,"r2":3.25},
      {"year":2055,"r0":2.4,"r1":3.05,"r2":3.25},{"year":2056,"r0":2.5,"r1":2.8,"r2":3.35},{"year":2057,"r0":2.7,"r1":2.85,"r2":3.3},{"year":2058,"r0":3.0,"r1":3.0,"r2":3.2},{"year":2059,"r0":2.85,"r1":2.7,"r2":3.05},
      {"year":2060,"r0":2.75,"r1":2.95,"r2":3.0},{"year":2061,"r0":2.55,"r1":3.2,"r2":2.95},{"year":2062,"r0":2.9,"r1":3.45,"r2":2.85},{"year":2063,"r0":3.0,"r1":3.3,"r2":3.1},{"year":2064,"r0":3.35,"r1":3.3,"r2":3.15},
      {"year":2065,"r0":3.25,"r1":3.25,"r2":3.05},{"year":2066,"r0":3.4,"r1":3.35,"r2":2.9},{"year":2067,"r0":3.05,"r1":3.2,"r2":3.15},{"year":2068,"r0":3.1,"r1":3.1,"r2":3.0},{"year":2069,"r0":3.15,"r1":3.2,"r2":2.95},
      {"year":2070,"r0":3.0,"r1":3.1,"r2":3.05},{"year":2071,"r0":3.1,"r1":3.25,"r2":3.1},{"year":2072,"r0":3.0,"r1":3.15,"r2":3.05},{"year":2073,"r0":2.8,"r1":3.55,"r2":3.15},{"year":2074,"r0":3.1,"r1":3.1,"r2":3.05},
      {"year":2075,"r0":3.25,"r1":3.3,"r2":3.0},{"year":2076,"r0":3.1,"r1":3.05,"r2":3.25},{"year":2077,"r0":3.3,"r1":3.1,"r2":3.0},{"year":2078,"r0":3.2,"r1":3.35,"r2":2.95},{"year":2079,"r0":2.95,"r1":3.15,"r2":3.1},
      {"year":2080,"r0":2.85,"r1":3.0,"r2":3.0},{"year":2081,"r0":3.0,"r1":3.0,"r2":3.05},{"year":2082,"r0":3.05,"r1":3.3,"r2":3.0},{"year":2083,"r0":2.95,"r1":3.6,"r2":3.25},{"year":2084,"r0":2.9,"r1":3.95,"r2":2.95},
      {"year":2085,"r0":3.3,"r1":3.5,"r2":3.1},{"year":2086,"r0":3.1,"r1":3.45,"r2":3.25},{"year":2087,"r0":2.8,"r1":3.2,"r2":3.0},{"year":2088,"r0":3.2,"r1":3.2,"r2":2.95},{"year":2089,"r0":3.15,"r1":3.6,"r2":3.2},
      {"year":2090,"r0":3.45,"r1":3.65,"r2":3.3},{"year":2091,"r0":3.1,"r1":3.45,"r2":3.1},{"year":2092,"r0":3.0,"r1":3.35,"r2":3.55},{"year":2093,"r0":2.95,"r1":3.3,"r2":3.1},{"year":2094,"r0":3.0,"r1":3.35,"r2":3.45},
      {"year":2095,"r0":3.35,"r1":3.35,"r2":3.3},{"year":2096,"r0":3.4,"r1":3.3,"r2":3.15},{"year":2097,"r0":3.25,"r1":3.4,"r2":2.85},{"year":2098,"r0":3.35,"r1":3.35,"r2":3.15},{"year":2099,"r0":3.4,"r1":3.4,"r2":3.05},
      {"year":2100,"r0":3.75,"r1":3.4,"r2":3.1}
    ],
    "sat": [
      {"year":1970,"r0":-15.0,"r1":-15.0,"r2":-14.3},{"year":1971,"r0":-14.4,"r1":-14.4,"r2":-14.1},{"year":1972,"r0":-14.6,"r1":-14.6,"r2":-15.2},{"year":1973,"r0":-14.4,"r1":-14.4,"r2":-14.4},{"year":1974,"r0":-14.3,"r1":-14.3,"r2":-14.1},
      {"year":1975,"r0":-13.6,"r1":-13.6,"r2":-14.7},{"year":1976,"r0":-14.9,"r1":-14.9,"r2":-13.4},{"year":1977,"r0":-13.8,"r1":-13.8,"r2":-13.5},{"year":1978,"r0":-13.4,"r1":-13.4,"r2":-14.4},{"year":1979,"r0":-13.6,"r1":-13.6,"r2":-13.5},
      {"year":1980,"r0":-12.55,"r1":-12.55,"r2":-15.1},{"year":1981,"r0":-12.8,"r1":-12.8,"r2":-14.3},{"year":1982,"r0":-13.1,"r1":-13.1,"r2":-14.2},{"year":1983,"r0":-13.9,"r1":-13.9,"r2":-13.2},{"year":1984,"r0":-13.7,"r1":-13.7,"r2":-12.95},
      {"year":1985,"r0":-13.4,"r1":-13.4,"r2":-13.2},{"year":1986,"r0":-13.8,"r1":-13.8,"r2":-13.4},{"year":1987,"r0":-13.4,"r1":-13.4,"r2":-13.3},{"year":1988,"r0":-13.5,"r1":-13.5,"r2":-13.7},{"year":1989,"r0":-13.1,"r1":-13.1,"r2":-14.3},
      {"year":1990,"r0":-12.8,"r1":-12.8,"r2":-14.0},{"year":1991,"r0":-12.7,"r1":-12.7,"r2":-13.7},{"year":1992,"r0":-13.2,"r1":-13.2,"r2":-13.5},{"year":1993,"r0":-14.9,"r1":-14.9,"r2":-13.9},{"year":1994,"r0":-14.1,"r1":-14.1,"r2":-13.95},
      {"year":1995,"r0":-13.3,"r1":-13.3,"r2":-13.3},{"year":1996,"r0":-13.6,"r1":-13.6,"r2":-13.2},{"year":1997,"r0":-13.4,"r1":-13.4,"r2":-13.5},{"year":1998,"r0":-13.0,"r1":-13.0,"r2":-13.8},{"year":1999,"r0":-13.0,"r1":-13.0,"r2":-14.0},
      {"year":2000,"r0":-12.6,"r1":-12.6,"r2":-13.9},{"year":2001,"r0":-12.55,"r1":-12.55,"r2":-13.1},{"year":2002,"r0":-13.6,"r1":-13.6,"r2":-13.4},{"year":2003,"r0":-12.9,"r1":-12.9,"r2":-13.4},{"year":2004,"r0":-12.8,"r1":-12.8,"r2":-12.9},
      {"year":2005,"r0":-12.6,"r1":-12.6,"r2":-12.7},{"year":2006,"r0":-12.85,"r1":-12.85,"r2":-12.6},{"year":2007,"r0":-12.6,"r1":-12.6,"r2":-12.5},{"year":2008,"r0":-11.7,"r1":-12.9,"r2":-12.5},{"year":2009,"r0":-12.3,"r1":-12.6,"r2":-12.2},
      {"year":2010,"r0":-12.9,"r1":-12.5,"r2":-12.0},{"year":2011,"r0":-12.4,"r1":-12.5,"r2":-12.2},{"year":2012,"r0":-11.8,"r1":-12.1,"r2":-12.4},{"year":2013,"r0":-10.45,"r1":-11.1,"r2":-12.35},{"year":2014,"r0":-11.4,"r1":-11.6,"r2":-12.4},
      {"year":2015,"r0":-11.7,"r1":-12.0,"r2":-12.5},{"year":2016,"r0":-11.5,"r1":-11.3,"r2":-12.55},{"year":2017,"r0":-12.3,"r1":-12.1,"r2":-12.6},{"year":2018,"r0":-12.6,"r1":-11.25,"r2":-12.6},{"year":2019,"r0":-12.5,"r1":-11.3,"r2":-12.5},
      {"year":2020,"r0":-12.3,"r1":-11.0,"r2":-12.1},{"year":2021,"r0":-12.1,"r1":-11.2,"r2":-12.8},{"year":2022,"r0":-12.4,"r1":-12.0,"r2":-12.9},{"year":2023,"r0":-12.35,"r1":-11.65,"r2":-11.9},{"year":2024,"r0":-12.2,"r1":-11.65,"r2":-12.1},
      {"year":2025,"r0":-11.6,"r1":-11.3,"r2":-11.8},{"year":2026,"r0":-11.6,"r1":-11.9,"r2":-11.5},{"year":2027,"r0":-12.0,"r1":-11.4,"r2":-11.7},{"year":2028,"r0":-11.9,"r1":-11.2,"r2":-11.9},{"year":2029,"r0":-11.5,"r1":-12.1,"r2":-12.0},
      {"year":2030,"r0":-12.3,"r1":-11.1,"r2":-11.1},{"year":2031,"r0":-11.7,"r1":-11.4,"r2":-11.4},{"year":2032,"r0":-11.6,"r1":-10.9,"r2":-11.5},{"year":2033,"r0":-11.0,"r1":-11.6,"r2":-11.2},{"year":2034,"r0":-11.3,"r1":-10.6,"r2":-11.95},
      {"year":2035,"r0":-11.7,"r1":-11.2,"r2":-11.0},{"year":2036,"r0":-11.3,"r1":-10.6,"r2":-11.5},{"year":2037,"r0":-11.1,"r1":-11.0,"r2":-11.9},{"year":2038,"r0":-11.6,"r1":-11.4,"r2":-11.3},{"year":2039,"r0":-10.7,"r1":-10.8,"r2":-10.6},
      {"year":2040,"r0":-10.2,"r1":-10.9,"r2":-10.9},{"year":2041,"r0":-10.6,"r1":-9.4,"r2":-11.1},{"year":2042,"r0":-10.3,"r1":-10.8,"r2":-10.5},{"year":2043,"r0":-10.9,"r1":-10.3,"r2":-10.75},{"year":2044,"r0":-9.5,"r1":-11.2,"r2":-10.4},
      {"year":2045,"r0":-9.8,"r1":-11.5,"r2":-10.9},{"year":2046,"r0":-10.5,"r1":-10.8,"r2":-10.1},{"year":2047,"r0":-10.8,"r1":-10.4,"r2":-10.4},{"year":2048,"r0":-10.1,"r1":-10.45,"r2":-10.6},{"year":2049,"r0":-10.6,"r1":-10.3,"r2":-10.9},
      {"year":2050,"r0":-11.9,"r1":-9.7,"r2":-10.3},{"year":2051,"r0":-10.4,"r1":-9.3,"r2":-9.9},{"year":2052,"r0":-10.2,"r1":-8.9,"r2":-9.6},{"year":2053,"r0":-10.3,"r1":-8.5,"r2":-9.65},{"year":2054,"r0":-11.0,"r1":-8.55,"r2":-9.7},
      {"year":2055,"r0":-10.9,"r1":-8.9,"r2":-9.0},{"year":2056,"r0":-10.8,"r1":-9.4,"r2":-9.4},{"year":2057,"r0":-11.45,"r1":-9.3,"r2":-9.8},{"year":2058,"r0":-10.6,"r1":-9.2,"r2":-9.5},{"year":2059,"r0":-10.3,"r1":-9.6,"r2":-9.7},
      {"year":2060,"r0":-9.6,"r1":-9.9,"r2":-9.3},{"year":2061,"r0":-9.2,"r1":-10.2,"r2":-9.4},{"year":2062,"r0":-9.4,"r1":-9.7,"r2":-9.6},{"year":2063,"r0":-10.1,"r1":-8.8,"r2":-10.2},{"year":2064,"r0":-10.6,"r1":-9.5,"r2":-9.7},
      {"year":2065,"r0":-10.9,"r1":-10.15,"r2":-9.4},{"year":2066,"r0":-9.9,"r1":-9.7,"r2":-9.0},{"year":2067,"r0":-9.5,"r1":-9.4,"r2":-9.3},{"year":2068,"r0":-9.8,"r1":-9.1,"r2":-9.5},{"year":2069,"r0":-9.3,"r1":-8.7,"r2":-9.4},
      {"year":2070,"r0":-8.9,"r1":-8.8,"r2":-10.35},{"year":2071,"r0":-9.7,"r1":-9.0,"r2":-9.9},{"year":2072,"r0":-9.8,"r1":-9.1,"r2":-9.6},{"year":2073,"r0":-9.4,"r1":-8.6,"r2":-9.5},{"year":2074,"r0":-9.1,"r1":-8.8,"r2":-9.7},
      {"year":2075,"r0":-9.6,"r1":-9.2,"r2":-9.4},{"year":2076,"r0":-9.7,"r1":-8.7,"r2":-9.1},{"year":2077,"r0":-10.0,"r1":-9.1,"r2":-9.6},{"year":2078,"r0":-9.2,"r1":-8.8,"r2":-9.2},{"year":2079,"r0":-9.4,"r1":-9.1,"r2":-9.5},
      {"year":2080,"r0":-9.8,"r1":-8.8,"r2":-9.6},{"year":2081,"r0":-9.5,"r1":-9.4,"r2":-9.8},{"year":2082,"r0":-9.3,"r1":-10.2,"r2":-9.2},{"year":2083,"r0":-9.7,"r1":-9.1,"r2":-10.2},{"year":2084,"r0":-9.9,"r1":-7.95,"r2":-9.9},
      {"year":2085,"r0":-9.6,"r1":-8.3,"r2":-9.6},{"year":2086,"r0":-10.3,"r1":-8.35,"r2":-9.2},{"year":2087,"r0":-9.5,"r1":-8.7,"r2":-9.7},{"year":2088,"r0":-9.9,"r1":-9.1,"r2":-8.8},{"year":2089,"r0":-9.4,"r1":-9.1,"r2":-9.6},
      {"year":2090,"r0":-10.3,"r1":-9.0,"r2":-9.0},{"year":2091,"r0":-9.3,"r1":-8.1,"r2":-9.0},{"year":2092,"r0":-9.9,"r1":-8.6,"r2":-8.6},{"year":2093,"r0":-8.8,"r1":-8.9,"r2":-9.2},{"year":2094,"r0":-9.4,"r1":-9.3,"r2":-9.0},
      {"year":2095,"r0":-10.0,"r1":-9.2,"r2":-9.4},{"year":2096,"r0":-9.6,"r1":-9.3,"r2":-9.8},{"year":2097,"r0":-9.7,"r1":-9.4,"r2":-9.4},{"year":2098,"r0":-9.0,"r1":-8.8,"r2":-9.5},{"year":2099,"r0":-9.8,"r1":-8.7,"r2":-9.6},
      {"year":2100,"r0":-9.3,"r1":-8.4,"r2":-9.6}
    ]
  },
  "concat": [
    {
      "title": "Sep NH ice extent",
      "width": 361, "height": 225,
      "data": {"name": "sepExtent"},
      "resolve": {"axis": {"x": "independent", "y": "independent"}},
      "layer": [
        {
          "data": {"values": [{"start": 2011, "end": 2018, "top": 7.3}, {"start": 2047, "end": 2058, "top": 5.6}]},
          "mark": {"type": "rect", "filled": false, "stroke": "#a0a0a0", "strokeWidth": 1.5},
          "encoding": {
            "x": {"field": "start", "type": "quantitative", "scale": {"domain": [1970, 2100], "nice": false, "zero": false},
                  "axis": {"orient": "bottom", "values": [1970,1975,1980,1985,1990,1995,2000,2005,2010,2015,2020,2025,2030,2035,2040,2045,2050,2055,2060,2065,2070,2075,2080,2085,2090,2095,2100], "labels": false, "domain": false, "tickSize": 4, "title": null}},
            "x2": {"field": "end"},
            "y": {"field": "top", "type": "quantitative", "scale": {"domain": [0, 8], "nice": false, "zero": false},
                  "axis": {"orient": "left", "values": [0,0.5,1,1.5,2,2.5,3,3.5,4,4.5,5,5.5,6,6.5,7,7.5,8], "labels": false, "domain": false, "tickSize": 4, "title": null}},
            "y2": {"datum": 0}
          }
        },
        {
          "mark": {"type": "line", "strokeWidth": 1.5, "clip": true},
          "encoding": {
            "x": {"field": "year", "type": "quantitative", "scale": {"domain": [1970, 2100], "nice": false, "zero": false},
                  "axis": {"orient": "bottom", "values": [1980,2000,2020,2040,2060,2080,2100], "format": "d", "title": null}},
            "y": {"field": "r2", "type": "quantitative", "scale": {"domain": [0, 8], "nice": false, "zero": false},
                  "axis": {"orient": "left", "values": [0,2,4,6,8], "format": ".1f", "title": "extent (10¹² m²)"}},
            "color": {"datum": "RCP45 run 2", "type": "nominal", "scale": {"domain": ["RCP45 run 0", "RCP45 run 1", "RCP45 run 2"]},
                      "legend": {"title": null, "orient": "none", "legendX": 226, "legendY": 1036, "labelLimit": 400, "labelExpr": "datum.label + '\u00a0\u00a0\u00a0\u00a0\u00a0\u00a0\u00a0\u00a0\u00a0\u00a0\u2060'"}}
          }
        },
        {
          "mark": {"type": "line", "strokeWidth": 1.5, "clip": true},
          "encoding": {
            "x": {"field": "year", "type": "quantitative", "scale": {"domain": [1970, 2100], "nice": false, "zero": false}, "axis": null},
            "y": {"field": "r1", "type": "quantitative", "scale": {"domain": [0, 8], "nice": false, "zero": false}, "axis": null},
            "color": {"datum": "RCP45 run 1", "type": "nominal", "scale": {"domain": ["RCP45 run 0", "RCP45 run 1", "RCP45 run 2"]}, "legend": {"title": null, "labelLimit": 400, "labelExpr": "datum.label + '\u00a0\u00a0\u00a0\u00a0\u00a0\u00a0\u00a0\u00a0\u00a0\u00a0\u2060'"}}
          }
        },
        {
          "mark": {"type": "line", "strokeWidth": 1.5, "clip": true},
          "encoding": {
            "x": {"field": "year", "type": "quantitative", "scale": {"domain": [1970, 2100], "nice": false, "zero": false}, "axis": null},
            "y": {"field": "r0", "type": "quantitative", "scale": {"domain": [0, 8], "nice": false, "zero": false}, "axis": null},
            "color": {"datum": "RCP45 run 0", "type": "nominal", "scale": {"domain": ["RCP45 run 0", "RCP45 run 1", "RCP45 run 2"]}, "legend": {"title": null, "labelLimit": 400, "labelExpr": "datum.label + '\u00a0\u00a0\u00a0\u00a0\u00a0\u00a0\u00a0\u00a0\u00a0\u00a0\u2060'"}}
          }
        },
        {
          "data": {"values": [{"tag": "(a)"}]},
          "mark": {"type": "text", "fontSize": 23, "align": "center", "baseline": "middle", "color": "black"},
          "encoding": {
            "x": {"datum": 2085, "type": "quantitative", "scale": {"domain": [1970, 2100], "nice": false, "zero": false}, "axis": null},
            "y": {"datum": 6.9, "type": "quantitative", "scale": {"domain": [0, 8], "nice": false, "zero": false}, "axis": null},
            "text": {"field": "tag"}
          }
        }
      ]
    },
    {
      "title": "Sep NH ice volume",
      "width": 361, "height": 225,
      "data": {"name": "sepVolume"},
      "resolve": {"axis": {"x": "independent", "y": "independent"}},
      "layer": [
        {
          "data": {"values": [{"start": 2011, "end": 2018, "top": 7.57}, {"start": 2047, "end": 2058, "top": 4.0}]},
          "mark": {"type": "rect", "filled": false, "stroke": "#a0a0a0", "strokeWidth": 1.5},
          "encoding": {
            "x": {"field": "start", "type": "quantitative", "scale": {"domain": [1970, 2100], "nice": false, "zero": false},
                  "axis": {"orient": "bottom", "values": [1970,1975,1980,1985,1990,1995,2000,2005,2010,2015,2020,2025,2030,2035,2040,2045,2050,2055,2060,2065,2070,2075,2080,2085,2090,2095,2100], "labels": false, "domain": false, "tickSize": 4, "title": null}},
            "x2": {"field": "end"},
            "y": {"field": "top", "type": "quantitative", "scale": {"domain": [0, 14], "nice": false, "zero": false},
                  "axis": {"orient": "left", "values": [0,0.5,1,1.5,2,2.5,3,3.5,4,4.5,5,5.5,6,6.5,7,7.5,8,8.5,9,9.5,10,10.5,11,11.5,12,12.5,13,13.5,14], "labels": false, "domain": false, "tickSize": 4, "title": null}},
            "y2": {"datum": 0}
          }
        },
        {
          "mark": {"type": "line", "strokeWidth": 1.5, "clip": true},
          "encoding": {
            "x": {"field": "year", "type": "quantitative", "scale": {"domain": [1970, 2100], "nice": false, "zero": false},
                  "axis": {"orient": "bottom", "values": [1980,2000,2020,2040,2060,2080,2100], "format": "d", "title": null}},
            "y": {"field": "r2", "type": "quantitative", "scale": {"domain": [0, 14], "nice": false, "zero": false},
                  "axis": {"orient": "left", "values": [0,2,4,6,8,10,12,14], "format": "d", "title": "volume (10¹² m³)"}},
            "color": {"datum": "RCP45 run 2", "type": "nominal", "scale": {"domain": ["RCP45 run 0", "RCP45 run 1", "RCP45 run 2"]}, "legend": {"title": null, "labelLimit": 400, "labelExpr": "datum.label + '\u00a0\u00a0\u00a0\u00a0\u00a0\u00a0\u00a0\u00a0\u00a0\u00a0\u2060'"}}
          }
        },
        {
          "mark": {"type": "line", "strokeWidth": 1.5, "clip": true},
          "encoding": {
            "x": {"field": "year", "type": "quantitative", "scale": {"domain": [1970, 2100], "nice": false, "zero": false}, "axis": null},
            "y": {"field": "r1", "type": "quantitative", "scale": {"domain": [0, 14], "nice": false, "zero": false}, "axis": null},
            "color": {"datum": "RCP45 run 1", "type": "nominal", "scale": {"domain": ["RCP45 run 0", "RCP45 run 1", "RCP45 run 2"]}, "legend": {"title": null, "labelLimit": 400, "labelExpr": "datum.label + '\u00a0\u00a0\u00a0\u00a0\u00a0\u00a0\u00a0\u00a0\u00a0\u00a0\u2060'"}}
          }
        },
        {
          "mark": {"type": "line", "strokeWidth": 1.5, "clip": true},
          "encoding": {
            "x": {"field": "year", "type": "quantitative", "scale": {"domain": [1970, 2100], "nice": false, "zero": false}, "axis": null},
            "y": {"field": "r0", "type": "quantitative", "scale": {"domain": [0, 14], "nice": false, "zero": false}, "axis": null},
            "color": {"datum": "RCP45 run 0", "type": "nominal", "scale": {"domain": ["RCP45 run 0", "RCP45 run 1", "RCP45 run 2"]}, "legend": {"title": null, "labelLimit": 400, "labelExpr": "datum.label + '\u00a0\u00a0\u00a0\u00a0\u00a0\u00a0\u00a0\u00a0\u00a0\u00a0\u2060'"}}
          }
        },
        {
          "data": {"values": [{"tag": "(b)"}]},
          "mark": {"type": "text", "fontSize": 23, "align": "center", "baseline": "middle", "color": "black"},
          "encoding": {
            "x": {"datum": 2085, "type": "quantitative", "scale": {"domain": [1970, 2100], "nice": false, "zero": false}, "axis": null},
            "y": {"datum": 12.0, "type": "quantitative", "scale": {"domain": [0, 14], "nice": false, "zero": false}, "axis": null},
            "text": {"field": "tag"}
          }
        }
      ]
    },
    {
      "title": "Yearmean NH ice extent",
      "width": 361, "height": 225,
      "data": {"name": "meanExtent"},
      "resolve": {"axis": {"x": "independent", "y": "independent"}},
      "layer": [
        {
          "data": {"values": [{"start": 2011, "end": 2018, "top": 10.92}, {"start": 2047, "end": 2058, "top": 10.36}]},
          "mark": {"type": "rect", "filled": false, "stroke": "#a0a0a0", "strokeWidth": 1.5},
          "encoding": {
            "x": {"field": "start", "type": "quantitative", "scale": {"domain": [1970, 2100], "nice": false, "zero": false},
                  "axis": {"orient": "bottom", "values": [1970,1975,1980,1985,1990,1995,2000,2005,2010,2015,2020,2025,2030,2035,2040,2045,2050,2055,2060,2065,2070,2075,2080,2085,2090,2095,2100], "labels": false, "domain": false, "tickSize": 4, "title": null}},
            "x2": {"field": "end"},
            "y": {"field": "top", "type": "quantitative", "scale": {"domain": [7.5, 12.5], "nice": false, "zero": false},
                  "axis": {"orient": "left", "values": [7.6,7.8,8,8.2,8.4,8.6,8.8,9,9.2,9.4,9.6,9.8,10,10.2,10.4,10.6,10.8,11,11.2,11.4,11.6,11.8,12,12.2,12.4], "labels": false, "domain": false, "tickSize": 4, "title": null}},
            "y2": {"datum": 7.5}
          }
        },
        {
          "mark": {"type": "line", "strokeWidth": 1.5, "clip": true},
          "encoding": {
            "x": {"field": "year", "type": "quantitative", "scale": {"domain": [1970, 2100], "nice": false, "zero": false},
                  "axis": {"orient": "bottom", "values": [1980,2000,2020,2040,2060,2080,2100], "format": "d", "title": null}},
            "y": {"field": "r2", "type": "quantitative", "scale": {"domain": [7.5, 12.5], "nice": false, "zero": false},
                  "axis": {"orient": "left", "values": [8,9,10,11,12], "format": ".1f", "title": "extent (10¹² m²)"}},
            "color": {"datum": "RCP45 run 2", "type": "nominal", "scale": {"domain": ["RCP45 run 0", "RCP45 run 1", "RCP45 run 2"]}, "legend": {"title": null, "labelLimit": 400, "labelExpr": "datum.label + '\u00a0\u00a0\u00a0\u00a0\u00a0\u00a0\u00a0\u00a0\u00a0\u00a0\u2060'"}}
          }
        },
        {
          "mark": {"type": "line", "strokeWidth": 1.5, "clip": true},
          "encoding": {
            "x": {"field": "year", "type": "quantitative", "scale": {"domain": [1970, 2100], "nice": false, "zero": false}, "axis": null},
            "y": {"field": "r1", "type": "quantitative", "scale": {"domain": [7.5, 12.5], "nice": false, "zero": false}, "axis": null},
            "color": {"datum": "RCP45 run 1", "type": "nominal", "scale": {"domain": ["RCP45 run 0", "RCP45 run 1", "RCP45 run 2"]}, "legend": {"title": null, "labelLimit": 400, "labelExpr": "datum.label + '\u00a0\u00a0\u00a0\u00a0\u00a0\u00a0\u00a0\u00a0\u00a0\u00a0\u2060'"}}
          }
        },
        {
          "mark": {"type": "line", "strokeWidth": 1.5, "clip": true},
          "encoding": {
            "x": {"field": "year", "type": "quantitative", "scale": {"domain": [1970, 2100], "nice": false, "zero": false}, "axis": null},
            "y": {"field": "r0", "type": "quantitative", "scale": {"domain": [7.5, 12.5], "nice": false, "zero": false}, "axis": null},
            "color": {"datum": "RCP45 run 0", "type": "nominal", "scale": {"domain": ["RCP45 run 0", "RCP45 run 1", "RCP45 run 2"]}, "legend": {"title": null, "labelLimit": 400, "labelExpr": "datum.label + '\u00a0\u00a0\u00a0\u00a0\u00a0\u00a0\u00a0\u00a0\u00a0\u00a0\u2060'"}}
          }
        },
        {
          "data": {"values": [{"tag": "(c)"}]},
          "mark": {"type": "text", "fontSize": 23, "align": "center", "baseline": "middle", "color": "black"},
          "encoding": {
            "x": {"datum": 2085, "type": "quantitative", "scale": {"domain": [1970, 2100], "nice": false, "zero": false}, "axis": null},
            "y": {"datum": 11.74, "type": "quantitative", "scale": {"domain": [7.5, 12.5], "nice": false, "zero": false}, "axis": null},
            "text": {"field": "tag"}
          }
        }
      ]
    },
    {
      "title": "Yearmean NH ice volume",
      "width": 361, "height": 225,
      "data": {"name": "meanVolume"},
      "resolve": {"axis": {"x": "independent", "y": "independent"}},
      "layer": [
        {
          "data": {"values": [{"start": 2011, "end": 2018, "top": 15.63}, {"start": 2047, "end": 2058, "top": 11.63}]},
          "mark": {"type": "rect", "filled": false, "stroke": "#a0a0a0", "strokeWidth": 1.5},
          "encoding": {
            "x": {"field": "start", "type": "quantitative", "scale": {"domain": [1970, 2100], "nice": false, "zero": false},
                  "axis": {"orient": "bottom", "values": [1970,1975,1980,1985,1990,1995,2000,2005,2010,2015,2020,2025,2030,2035,2040,2045,2050,2055,2060,2065,2070,2075,2080,2085,2090,2095,2100], "labels": false, "domain": false, "tickSize": 4, "title": null}},
            "x2": {"field": "end"},
            "y": {"field": "top", "type": "quantitative", "scale": {"domain": [6, 23], "nice": false, "zero": false},
                  "axis": {"orient": "left", "values": [6,7,8,9,10,11,12,13,14,15,16,17,18,19,20,21,22,23], "labels": false, "domain": false, "tickSize": 4, "title": null}},
            "y2": {"datum": 6}
          }
        },
        {
          "mark": {"type": "line", "strokeWidth": 1.5, "clip": true},
          "encoding": {
            "x": {"field": "year", "type": "quantitative", "scale": {"domain": [1970, 2100], "nice": false, "zero": false},
                  "axis": {"orient": "bottom", "values": [1980,2000,2020,2040,2060,2080,2100], "format": "d", "title": null}},
            "y": {"field": "r2", "type": "quantitative", "scale": {"domain": [6, 23], "nice": false, "zero": false},
                  "axis": {"orient": "left", "values": [6,9,12,15,18,21], "format": "d", "title": "volume (10¹² m³)"}},
            "color": {"datum": "RCP45 run 2", "type": "nominal", "scale": {"domain": ["RCP45 run 0", "RCP45 run 1", "RCP45 run 2"]}, "legend": {"title": null, "labelLimit": 400, "labelExpr": "datum.label + '\u00a0\u00a0\u00a0\u00a0\u00a0\u00a0\u00a0\u00a0\u00a0\u00a0\u2060'"}}
          }
        },
        {
          "mark": {"type": "line", "strokeWidth": 1.5, "clip": true},
          "encoding": {
            "x": {"field": "year", "type": "quantitative", "scale": {"domain": [1970, 2100], "nice": false, "zero": false}, "axis": null},
            "y": {"field": "r1", "type": "quantitative", "scale": {"domain": [6, 23], "nice": false, "zero": false}, "axis": null},
            "color": {"datum": "RCP45 run 1", "type": "nominal", "scale": {"domain": ["RCP45 run 0", "RCP45 run 1", "RCP45 run 2"]}, "legend": {"title": null, "labelLimit": 400, "labelExpr": "datum.label + '\u00a0\u00a0\u00a0\u00a0\u00a0\u00a0\u00a0\u00a0\u00a0\u00a0\u2060'"}}
          }
        },
        {
          "mark": {"type": "line", "strokeWidth": 1.5, "clip": true},
          "encoding": {
            "x": {"field": "year", "type": "quantitative", "scale": {"domain": [1970, 2100], "nice": false, "zero": false}, "axis": null},
            "y": {"field": "r0", "type": "quantitative", "scale": {"domain": [6, 23], "nice": false, "zero": false}, "axis": null},
            "color": {"datum": "RCP45 run 0", "type": "nominal", "scale": {"domain": ["RCP45 run 0", "RCP45 run 1", "RCP45 run 2"]}, "legend": {"title": null, "labelLimit": 400, "labelExpr": "datum.label + '\u00a0\u00a0\u00a0\u00a0\u00a0\u00a0\u00a0\u00a0\u00a0\u00a0\u2060'"}}
          }
        },
        {
          "data": {"values": [{"tag": "(d)"}]},
          "mark": {"type": "text", "fontSize": 23, "align": "center", "baseline": "middle", "color": "black"},
          "encoding": {
            "x": {"datum": 2085, "type": "quantitative", "scale": {"domain": [1970, 2100], "nice": false, "zero": false}, "axis": null},
            "y": {"datum": 20.38, "type": "quantitative", "scale": {"domain": [6, 23], "nice": false, "zero": false}, "axis": null},
            "text": {"field": "tag"}
          }
        }
      ]
    },
    {
      "title": "Yearmean Arctic sens. heat upper 50m",
      "width": 361, "height": 225,
      "data": {"name": "heat"},
      "resolve": {"axis": {"x": "independent", "y": "independent"}},
      "layer": [
        {
          "data": {"values": [{"start": 2011, "end": 2018, "top": 2.56}, {"start": 2047, "end": 2058, "top": 3.5}]},
          "mark": {"type": "rect", "filled": false, "stroke": "#a0a0a0", "strokeWidth": 1.5},
          "encoding": {
            "x": {"field": "start", "type": "quantitative", "scale": {"domain": [1970, 2100], "nice": false, "zero": false},
                  "axis": {"orient": "bottom", "values": [1970,1975,1980,1985,1990,1995,2000,2005,2010,2015,2020,2025,2030,2035,2040,2045,2050,2055,2060,2065,2070,2075,2080,2085,2090,2095,2100], "labels": false, "domain": false, "tickSize": 4, "title": null}},
            "x2": {"field": "end"},
            "y": {"field": "top", "type": "quantitative", "scale": {"domain": [1, 4], "nice": false, "zero": false},
                  "axis": {"orient": "left", "values": [1,1.1,1.2,1.3,1.4,1.5,1.6,1.7,1.8,1.9,2,2.1,2.2,2.3,2.4,2.5,2.6,2.7,2.8,2.9,3,3.1,3.2,3.3,3.4,3.5,3.6,3.7,3.8,3.9,4], "labels": false, "domain": false, "tickSize": 4, "title": null}},
            "y2": {"datum": 1}
          }
        },
        {
          "mark": {"type": "line", "strokeWidth": 1.5, "clip": true},
          "encoding": {
            "x": {"field": "year", "type": "quantitative", "scale": {"domain": [1970, 2100], "nice": false, "zero": false},
                  "axis": {"orient": "bottom", "values": [1980,2000,2020,2040,2060,2080,2100], "format": "d", "title": null}},
            "y": {"field": "r2", "type": "quantitative", "scale": {"domain": [1, 4], "nice": false, "zero": false},
                  "axis": {"orient": "left", "values": [1,1.5,2,2.5,3,3.5,4], "format": ".1f", "title": "sensible heat (10⁸ J/m²)"}},
            "color": {"datum": "RCP45 run 2", "type": "nominal", "scale": {"domain": ["RCP45 run 0", "RCP45 run 1", "RCP45 run 2"]}, "legend": {"title": null, "labelLimit": 400, "labelExpr": "datum.label + '\u00a0\u00a0\u00a0\u00a0\u00a0\u00a0\u00a0\u00a0\u00a0\u00a0\u2060'"}}
          }
        },
        {
          "mark": {"type": "line", "strokeWidth": 1.5, "clip": true},
          "encoding": {
            "x": {"field": "year", "type": "quantitative", "scale": {"domain": [1970, 2100], "nice": false, "zero": false}, "axis": null},
            "y": {"field": "r1", "type": "quantitative", "scale": {"domain": [1, 4], "nice": false, "zero": false}, "axis": null},
            "color": {"datum": "RCP45 run 1", "type": "nominal", "scale": {"domain": ["RCP45 run 0", "RCP45 run 1", "RCP45 run 2"]}, "legend": {"title": null, "labelLimit": 400, "labelExpr": "datum.label + '\u00a0\u00a0\u00a0\u00a0\u00a0\u00a0\u00a0\u00a0\u00a0\u00a0\u2060'"}}
          }
        },
        {
          "mark": {"type": "line", "strokeWidth": 1.5, "clip": true},
          "encoding": {
            "x": {"field": "year", "type": "quantitative", "scale": {"domain": [1970, 2100], "nice": false, "zero": false}, "axis": null},
            "y": {"field": "r0", "type": "quantitative", "scale": {"domain": [1, 4], "nice": false, "zero": false}, "axis": null},
            "color": {"datum": "RCP45 run 0", "type": "nominal", "scale": {"domain": ["RCP45 run 0", "RCP45 run 1", "RCP45 run 2"]}, "legend": {"title": null, "labelLimit": 400, "labelExpr": "datum.label + '\u00a0\u00a0\u00a0\u00a0\u00a0\u00a0\u00a0\u00a0\u00a0\u00a0\u2060'"}}
          }
        },
        {
          "data": {"values": [{"tag": "(e)"}]},
          "mark": {"type": "text", "fontSize": 23, "align": "center", "baseline": "middle", "color": "black"},
          "encoding": {
            "x": {"datum": 2085, "type": "quantitative", "scale": {"domain": [1970, 2100], "nice": false, "zero": false}, "axis": null},
            "y": {"datum": 1.45, "type": "quantitative", "scale": {"domain": [1, 4], "nice": false, "zero": false}, "axis": null},
            "text": {"field": "tag"}
          }
        }
      ]
    },
    {
      "title": "Yearmean SAT over Arctic Ocean",
      "width": 361, "height": 225,
      "data": {"name": "sat"},
      "resolve": {"axis": {"x": "independent", "y": "independent"}},
      "layer": [
        {
          "data": {"values": [{"start": 2011, "end": 2018, "top": -10.06}, {"start": 2047, "end": 2058, "top": -8.09}]},
          "mark": {"type": "rect", "filled": false, "stroke": "#a0a0a0", "strokeWidth": 1.5},
          "encoding": {
            "x": {"field": "start", "type": "quantitative", "scale": {"domain": [1970, 2100], "nice": false, "zero": false},
                  "axis": {"orient": "bottom", "values": [1970,1975,1980,1985,1990,1995,2000,2005,2010,2015,2020,2025,2030,2035,2040,2045,2050,2055,2060,2065,2070,2075,2080,2085,2090,2095,2100], "labels": false, "domain": false, "tickSize": 4, "title": null}},
            "x2": {"field": "end"},
            "y": {"field": "top", "type": "quantitative", "scale": {"domain": [-16, -8], "nice": false, "zero": false},
                  "axis": {"orient": "left", "values": [-16,-15.5,-15,-14.5,-14,-13.5,-13,-12.5,-12,-11.5,-11,-10.5,-10,-9.5,-9,-8.5,-8], "labels": false, "domain": false, "tickSize": 4, "title": null}},
            "y2": {"datum": -16}
          }
        },
        {
          "mark": {"type": "line", "strokeWidth": 1.5, "clip": true},
          "encoding": {
            "x": {"field": "year", "type": "quantitative", "scale": {"domain": [1970, 2100], "nice": false, "zero": false},
                  "axis": {"orient": "bottom", "values": [1980,2000,2020,2040,2060,2080,2100], "format": "d", "title": null}},
            "y": {"field": "r2", "type": "quantitative", "scale": {"domain": [-16, -8], "nice": false, "zero": false},
                  "axis": {"orient": "left", "values": [-16,-14,-12,-10,-8], "labelExpr": "'' + datum.value", "title": "SAT (°C)"}},
            "color": {"datum": "RCP45 run 2", "type": "nominal", "scale": {"domain": ["RCP45 run 0", "RCP45 run 1", "RCP45 run 2"]}, "legend": {"title": null, "labelLimit": 400, "labelExpr": "datum.label + '\u00a0\u00a0\u00a0\u00a0\u00a0\u00a0\u00a0\u00a0\u00a0\u00a0\u2060'"}}
          }
        },
        {
          "mark": {"type": "line", "strokeWidth": 1.5, "clip": true},
          "encoding": {
            "x": {"field": "year", "type": "quantitative", "scale": {"domain": [1970, 2100], "nice": false, "zero": false}, "axis": null},
            "y": {"field": "r1", "type": "quantitative", "scale": {"domain": [-16, -8], "nice": false, "zero": false}, "axis": null},
            "color": {"datum": "RCP45 run 1", "type": "nominal", "scale": {"domain": ["RCP45 run 0", "RCP45 run 1", "RCP45 run 2"]}, "legend": {"title": null, "labelLimit": 400, "labelExpr": "datum.label + '\u00a0\u00a0\u00a0\u00a0\u00a0\u00a0\u00a0\u00a0\u00a0\u00a0\u2060'"}}
          }
        },
        {
          "mark": {"type": "line", "strokeWidth": 1.5, "clip": true},
          "encoding": {
            "x": {"field": "year", "type": "quantitative", "scale": {"domain": [1970, 2100], "nice": false, "zero": false}, "axis": null},
            "y": {"field": "r0", "type": "quantitative", "scale": {"domain": [-16, -8], "nice": false, "zero": false}, "axis": null},
            "color": {"datum": "RCP45 run 0", "type": "nominal", "scale": {"domain": ["RCP45 run 0", "RCP45 run 1", "RCP45 run 2"]}, "legend": {"title": null, "labelLimit": 400, "labelExpr": "datum.label + '\u00a0\u00a0\u00a0\u00a0\u00a0\u00a0\u00a0\u00a0\u00a0\u00a0\u2060'"}}
          }
        },
        {
          "data": {"values": [{"tag": "(f)"}]},
          "mark": {"type": "text", "fontSize": 23, "align": "center", "baseline": "middle", "color": "black"},
          "encoding": {
            "x": {"datum": 2085, "type": "quantitative", "scale": {"domain": [1970, 2100], "nice": false, "zero": false}, "axis": null},
            "y": {"datum": -14.79, "type": "quantitative", "scale": {"domain": [-16, -8], "nice": false, "zero": false}, "axis": null},
            "text": {"field": "tag"}
          }
        }
      ]
    }
  ],
  "config": {
    "font": "Liberation Sans",
    "background": "white",
    "view": {"stroke": null},
    "range": {"category": ["#ff0000", "#0000ff", "#ffa500"]},
    "title": {"fontSize": 20.5, "fontWeight": "normal", "color": "black", "offset": 13, "baseline": "alphabetic", "frame": "group", "anchor": "middle"},
    "axis": {"grid": false, "labelFontSize": 18, "labelColor": "black", "titleFontSize": 21, "titleFontWeight": "normal", "titleColor": "black",
             "domainColor": "black", "domainWidth": 1.5, "tickColor": "black", "tickWidth": 1.5, "tickSize": 8, "labelFlush": false, "labelOverlap": false},
    "axisX": {"labelPadding": 11},
    "axisY": {"labelPadding": 13, "titlePadding": 10},
    "legend": {"orient": "none", "legendX": 226, "legendY": 1036, "symbolType": "stroke", "symbolSize": 9604, "symbolStrokeWidth": 1.5,
               "clipHeight": 40.5, "rowPadding": 0, "padding": 8, "symbolOffset": 53, "labelOffset": 5, "labelLimit": 400,
               "labelFontSize": 19, "labelColor": "black", "strokeColor": "#222222", "fillColor": "white"}
  }
}
